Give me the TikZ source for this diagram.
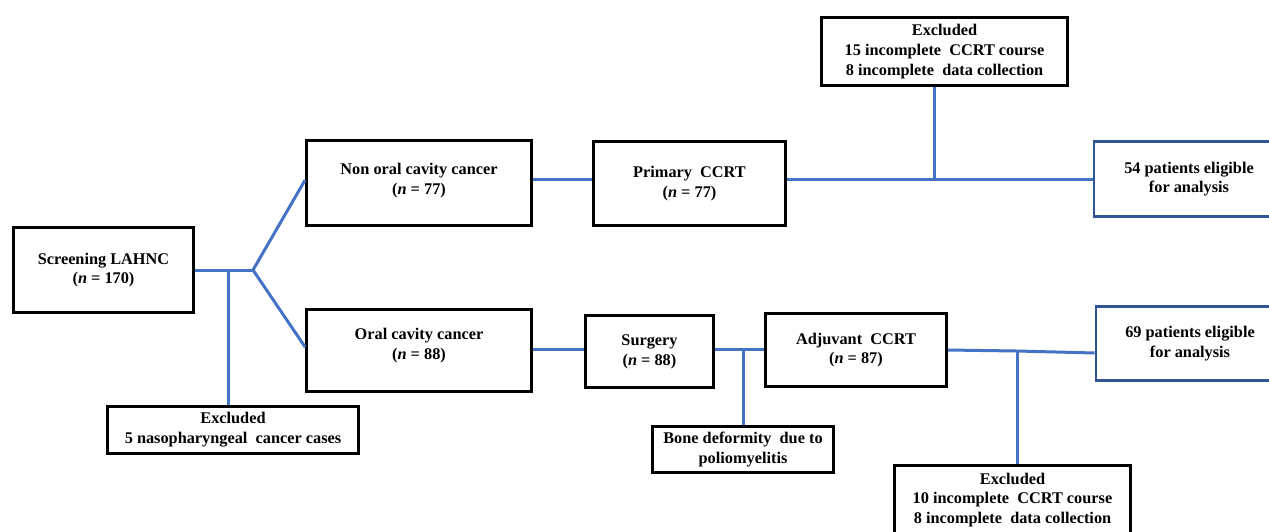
\documentclass[tikz,border=0pt]{standalone}
\usepackage{fontspec}
\setmainfont{Liberation Serif}
\definecolor{lineblue}{HTML}{4472C4}
\definecolor{boxblue}{HTML}{2F5597}
\begin{document}
\begin{tikzpicture}[x=1pt,y=-1pt,
  box/.style={draw=black, line width=2.8pt, fill=white, align=center, inner sep=0pt,
    font=\bfseries\fontsize{16.3}{19.8}\selectfont},
  bluebox/.style={box, draw=boxblue, line width=2.6pt},
  conn/.style={draw=lineblue, line width=3pt}]
\useasboundingbox (0,0) rectangle (1269,531);
% boxes
\node[box, minimum width=180pt, minimum height=85pt] (screen) at (103.5,270) {Screening LAHNC\\(\textit{n} = 170)};
\node[box, minimum width=225pt, minimum height=85pt] (nonoral) at (419,183) {Non oral cavity cancer\\(\textit{n} = 77)\\[-11pt]};
\node[box, minimum width=225pt, minimum height=82pt] (oral) at (419,350.5) {Oral cavity cancer\\(\textit{n} = 88)\\[-6pt]};
\node[box, minimum width=192pt, minimum height=84pt] (primary) at (689.5,183.5) {Primary\ \ CCRT\\(\textit{n} = 77)};
\node[box, minimum width=246pt, minimum height=68pt] (exctop) at (944.5,51.5) {Excluded\\15 incomplete\ \ CCRT course\\8 incomplete\ \ data collection};
\node[bluebox, minimum width=190pt, minimum height=75pt] (elig54) at (1189,179) {54 patients eligible\\for analysis};
\node[box, minimum width=128pt, minimum height=72pt] (surgery) at (649.5,351.5) {Surgery\\(\textit{n} = 88)};
\node[box, minimum width=181pt, minimum height=73pt] (adjuvant) at (856,350) {Adjuvant\ \ CCRT\\(\textit{n} = 87)};
\node[bluebox, minimum width=188pt, minimum height=74pt] (elig69) at (1190,343.5) {69 patients eligible\\for analysis};
\node[box, minimum width=251pt, minimum height=47pt] (excleft) at (233,430) {Excluded\\5 nasopharyngeal\ \ cancer cases};
\node[box, minimum width=181pt, minimum height=46pt] (bone) at (743,449.5) {Bone deformity\ \ due to\\poliomyelitis};
\node[box, minimum width=236pt, minimum height=69pt] (excbot) at (1012.5,500) {Excluded\\10 incomplete\ \ CCRT course\\8 incomplete\ \ data collection};
% junction coordinates
\coordinate (split) at (253,270);
\coordinate (j1) at (228,270);
\coordinate (jt) at (934,179);
\coordinate (jb) at (743,349);
\coordinate (jc) at (1017,351);
% connectors
\draw[conn] (screen.east) -- (split);
\draw[conn] (j1) -- (j1 |- excleft.north);
\draw[conn] (split) -- ([yshift=3pt]nonoral.west);
\draw[conn] (split) -- ([yshift=3.5pt]oral.west);
\draw[conn] (nonoral.east |- jt) -- (primary.west |- jt);
\draw[conn] (primary.east |- jt) -- (elig54.west |- jt);
\draw[conn] (jt) -- (jt |- exctop.south);
\draw[conn] (oral.east |- jb) -- (surgery.west |- jb);
\draw[conn] (surgery.east |- jb) -- (adjuvant.west |- jb);
\draw[conn] (jb) -- (jb |- bone.north);
\draw[conn] (adjuvant.east) -- (jc) -- ([yshift=-9.5pt]elig69.west);
\draw[conn] (jc) -- (jc |- excbot.north);
\end{tikzpicture}
\end{document}
